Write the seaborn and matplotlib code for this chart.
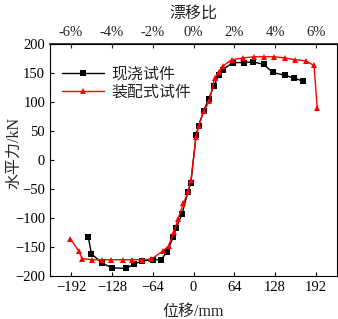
import pandas as pd
import matplotlib.pyplot as plt
import seaborn as sns

# 现浇试件 (cast-in-place) skeleton curve
cast_disp = [-165, -160, -143, -128, -106, -94, -80, -63, -51, -41, -32, -27, -18, -9, -4,
             4, 8, 16, 24, 32, 40, 46, 62, 79, 94, 110, 124, 144, 158, 172]
cast_force = [-133, -162, -178, -186, -187, -180, -174, -172, -172, -158, -133, -117, -93, -56, -39,
              43, 59, 85, 106, 128, 147, 156, 168, 168, 169, 165, 151, 146, 141, 136]

# 装配式试件 (precast) skeleton curve
prec_disp = [-193, -180, -175, -159, -144, -129, -111, -96, -80, -66, -48, -39, -31, -24, -16, -8, -4,
             4, 8, 16, 25, 33, 40, 46, 60, 78, 95, 111, 127, 143, 159, 176, 189, 194]
prec_force = [-136, -157, -170, -172, -172, -172, -172, -172, -172, -171, -157, -148, -125, -101, -75, -54, -34,
              40, 58, 84, 102, 142, 152, 162, 173, 176, 178, 178, 178, 176, 173, 171, 163, 90]

x_ticks = [-192, -128, -64, 0, 64, 128, 192]
drift_ticks = [-6, -4, -2, 0, 2, 4, 6]
y_ticks = [-200, -150, -100, -50, 0, 50, 100, 150, 200]

df = pd.concat([
    pd.DataFrame({'disp': cast_disp, 'force': cast_force, 'spec': '现浇试件'}),
    pd.DataFrame({'disp': prec_disp, 'force': prec_force, 'spec': '装配式试件'}),
])

sns.set_theme(style="ticks")
plt.rcParams['font.family'] = ['Liberation Serif', 'Noto Sans CJK SC']
plt.rcParams['xtick.direction'] = 'in'
plt.rcParams['ytick.direction'] = 'in'

fig = plt.figure(figsize=(3.38, 3.19), dpi=100)
ax = fig.add_axes([0.148, 0.135, 0.849, 0.727])

sns.lineplot(data=df, x='disp', y='force', hue='spec', style='spec', sort=False,
             palette={'现浇试件': 'black', '装配式试件': '#ff0000'},
             markers={'现浇试件': 's', '装配式试件': '^'}, dashes=False,
             markersize=4.5, markeredgewidth=0, linewidth=1, ax=ax)

ax.set_xlim(-225, 225)
ax.set_ylim(-200, 200)
ax.set_xticks(x_ticks)
ax.set_yticks(y_ticks)
ax.tick_params(labelsize=10.5, length=3, width=0.8, colors='black')
for s in ax.spines.values():
    s.set_linewidth(0.8)
    s.set_color('black')

ax.set_xlabel('位移/mm', fontsize=11.5, labelpad=7)
ax.set_ylabel('水平力/kN', fontsize=11.5)
ax.yaxis.set_label_coords(-0.098, 0.53)

top = ax.secondary_xaxis('top', functions=(lambda x: x / 32, lambda p: p * 32))
top.set_xticks(drift_ticks)
top.set_xticklabels([f'{d}%' for d in drift_ticks])
top.tick_params(direction='in', labelsize=10.5, length=3, width=0.8)
top.set_xlabel('漂移比', fontsize=11.5, labelpad=6)

leg = ax.legend(loc='upper left', bbox_to_anchor=(0.02, 0.93), frameon=False, fontsize=11.5,
                handlelength=2.6, handletextpad=0.5, labelspacing=0.1, borderaxespad=0)

fig.savefig('out.png', dpi=100)
